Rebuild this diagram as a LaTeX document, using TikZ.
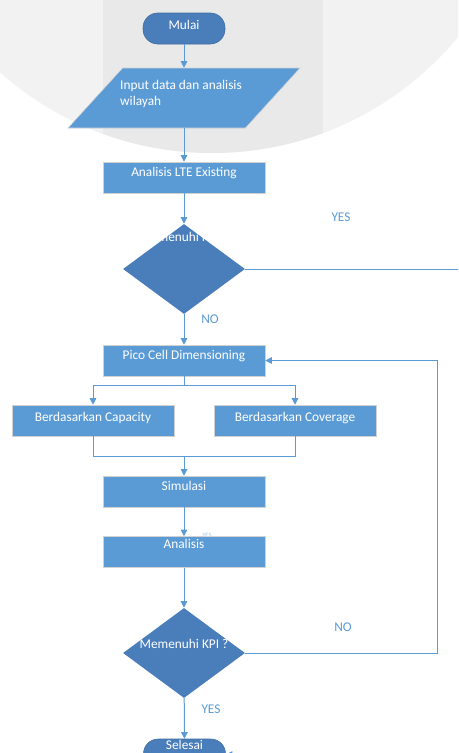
\documentclass[tikz,border=0pt]{standalone}
\usepackage{fontspec}
\setmainfont{Carlito}
\usetikzlibrary{shapes.geometric,arrows.meta}
\definecolor{boxblue}{HTML}{5B9BD5}
\definecolor{darkblue}{HTML}{4A7EBB}
\definecolor{lineblue}{HTML}{5B9BD5}
\definecolor{wmlight}{HTML}{F2F2F2}
\definecolor{wmdark}{HTML}{E9E9E9}
\tikzset{
	process/.style={
		rectangle,
		draw=black!18,
		fill=boxblue,
		text=white,
		minimum width=121.5pt,
		minimum height=23.25pt,
		inner sep=0pt,
		text height=7pt
	},
	terminal/.style={
		rectangle,
		rounded corners=11pt,
		draw=darkblue!85!black,
		fill=darkblue,
		text=white,
		minimum width=61.5pt,
		minimum height=23.25pt,
		inner sep=0pt,
		text height=7pt
	},
	decision/.style={
		diamond,
		fill=darkblue,
		minimum width=91.5pt,
		minimum height=67.5pt,
		inner sep=1pt
	},
	inputdata/.style={
		trapezium,
		trapezium left angle=66,
		trapezium right angle=114,
		trapezium stretches=true,
		draw=black!18,
		fill=boxblue,
		minimum width=174pt,
		minimum height=45pt,
		inner sep=1pt
	},
	txtup/.style={text depth=#1},
	flow/.style={draw=lineblue, line width=0.75pt},
	arr/.style={flow, -{Triangle[length=5pt,width=5pt]}},
	answer/.style={text=lineblue},
}
\begin{document}
\begin{tikzpicture}[x=0.75pt,y=-0.75pt]
\useasboundingbox (0,0) rectangle (458,753);
\clip (0,0) rectangle (458,753);

% watermark
\fill[wmlight] (212,-166) circle[radius=239.25pt];
\begin{scope}
	\clip (212,-166) circle[radius=239.25pt];
	\fill[wmdark] (103,-10) rectangle (323,200);
\end{scope}

\node[terminal, txtup=6.2pt] (mulai) at (184,28.5) {Mulai};
\node[inputdata, label={[text=white, align=left, xshift=-2.25pt, yshift=3pt]center:Input data dan analisis\\wilayah}] (input) at (184,98) {};
\node[process, txtup=7.8pt] (lte) at (184,177.5) {Analisis LTE Existing};
\node[decision, label={[text=white, yshift=24pt]center:Memenuhi KPI ?}] (cek1) at (184,269) {};

\node[process, txtup=7.8pt] (pico) at (184,360.5) {Pico Cell Dimensioning};
	\node[process, txtup=4.8pt] (cap) at (93,420.5) {Berdasarkan Capacity};
	\node[process, txtup=4.8pt] (cov) at (295,420.5) {Berdasarkan Coverage};
\node[process, txtup=7.8pt] (sim) at (184,491.5) {Simulasi};
\node[text=lineblue!55, font=\fontsize{5}{6}\selectfont] (yeskecil) at (207,535.5) {YES};
\node[process, txtup=13pt] (anl) at (184,552) {Analisis};
\node[decision, label={[text=white, yshift=6.75pt]center:Memenuhi KPI ?}] (cek2) at (184,653) {};
\node[terminal, txtup=15.2pt] (selesai) at (184.5,754.5) {Selesai};

\coordinate (yesR) at (490,754.5);
\coordinate (fork) at (184,385);
\coordinate (join) at (184,456);
\coordinate (noR) at (437,653);

\draw[arr] (mulai) -- (input);
\draw[arr] (input) -- (lte);
\draw[arr] (lte) -- (cek1);
\draw[arr] (cek1.east) -| (yesR) -- (selesai.east);
\node[answer] (yes1) at (341,217) {YES};
\draw[arr] (cek1) -- (pico);
\node[answer] (no1) at (210,319) {NO};

\draw[flow] (pico) -- (fork);
\draw[arr] (fork) -| (cap);
\draw[arr] (fork) -| (cov);
\draw[flow] (cap) |- (join);
\draw[flow] (cov) |- (join);
\draw[arr] (join) -- (sim);
\draw[arr] (sim) -- (anl);
\draw[arr] (anl) -- (cek2);

\draw[arr] (cek2.east) -- (noR) |- (pico.east);
\node[answer] (no2) at (343,627) {NO};
\draw[arr] (cek2) -- (selesai);
\node[answer] (yes2) at (211,709) {YES};
\end{tikzpicture}
\end{document}
